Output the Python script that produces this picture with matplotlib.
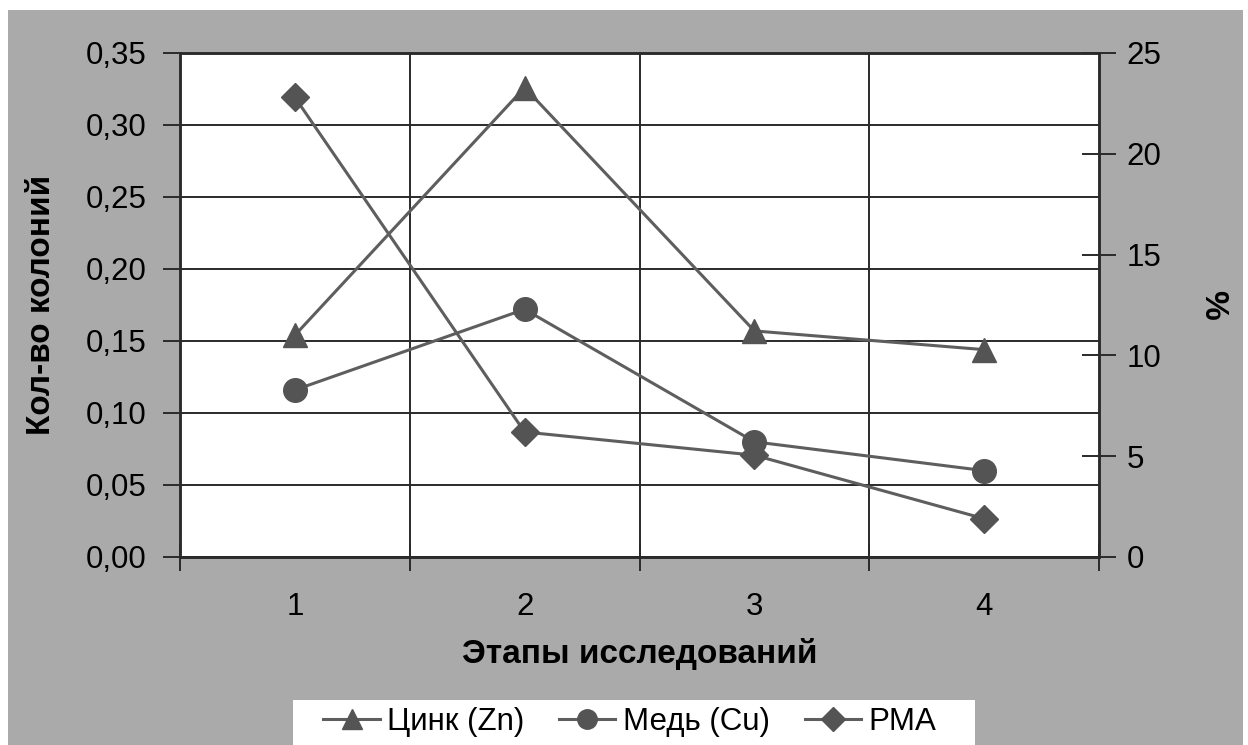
import matplotlib

matplotlib.use("Agg")
import matplotlib.pyplot as plt
from matplotlib.patches import Rectangle
from matplotlib.lines import Line2D

plt.rcParams["font.family"] = ["Liberation Sans", "DejaVu Sans"]

stages = [1, 2, 3, 4]
stage_labels = ["1", "2", "3", "4"]
zinc = [0.154, 0.326, 0.157, 0.144]
copper = [0.116, 0.172, 0.080, 0.060]
pma = [22.8, 6.2, 5.05, 1.9]

left_ticks = [0.0, 0.05, 0.10, 0.15, 0.20, 0.25, 0.30, 0.35]
right_ticks = [0, 5, 10, 15, 20, 25]

BG = "#aaaaaa"
LINE = "#5e5e5e"
MARK = "#545454"
GRID = "#2a2a2a"
FS = 22.5
FSB = 24

W, H = 1248, 745
fig = plt.figure(figsize=(W / 100, H / 100), dpi=100)
fig.patch.set_facecolor("white")
fig.patches.append(Rectangle((8 / W, 0), (1243 - 8) / W, (735) / H,
                             transform=fig.transFigure, facecolor=BG,
                             edgecolor="none", zorder=-2))
fig.patches.append(Rectangle((293 / W, 0), (975 - 293) / W, 45 / H,
                             transform=fig.transFigure, facecolor="white",
                             edgecolor="none", zorder=-1))

ax = fig.add_axes([180 / W, 1 - 557 / H, (1099 - 180) / W, (557 - 53) / H])
ax.set_facecolor("white")
ax2 = ax.twinx()

ax.plot(stages, zinc, color=LINE, lw=2.2, marker="^", ms=17, mfc=MARK, mec=MARK, zorder=3)
ax.plot(stages, copper, color=LINE, lw=2.2, marker="o", ms=17, mfc=MARK, mec=MARK, zorder=3)
ax2.plot(stages, pma, color=LINE, lw=2.2, marker="D", ms=14, mfc=MARK, mec=MARK, zorder=3)

ax.set_xlim(0.5, 4.5)
ax.set_ylim(0, 0.35)
ax2.set_ylim(0, 25)

# grid
for v in left_ticks:
    ax.axhline(v, color=GRID, lw=1.4, zorder=1)
for b in [1.5, 2.5, 3.5]:
    ax.axvline(b, color=GRID, lw=1.4, zorder=1)

ax.set_yticks(left_ticks)
ax.set_yticklabels([f"{v:.2f}".replace(".", ",") for v in left_ticks], fontsize=FS)
ax.tick_params(axis="y", direction="out", length=12, width=1.4, color=GRID, pad=12)

ax.set_xticks([0.5, 1.5, 2.5, 3.5, 4.5])
ax.set_xticklabels([])
ax.tick_params(axis="x", which="major", direction="inout", length=20, width=1.4, color=GRID)
ax.set_xticks(stages, minor=True)
ax.set_xticklabels(stage_labels, minor=True, fontsize=FS)
ax.tick_params(axis="x", which="minor", length=0, pad=25)

ax2.set_yticks(right_ticks)
ax2.set_yticklabels([str(v) for v in right_ticks], fontsize=FS)
ax2.tick_params(axis="y", direction="inout", length=24, width=1.4, color=GRID, pad=8)

for a in (ax, ax2):
    for s in a.spines.values():
        s.set_color(GRID)
        s.set_linewidth(1.8)

ax.set_xlabel("Этапы исследований", fontsize=FSB, fontweight="bold", labelpad=12)
ax.set_ylabel("Кол-во колоний", fontsize=FSB, fontweight="bold", labelpad=21)
ax2.set_ylabel("%", fontsize=FSB, fontweight="bold", rotation=270, labelpad=48)

handles = [
    Line2D([], [], color=LINE, lw=2.2, marker="^", ms=14, mfc=MARK, mec=MARK),
    Line2D([], [], color=LINE, lw=2.2, marker="o", ms=14, mfc=MARK, mec=MARK),
    Line2D([], [], color=LINE, lw=2.2, marker="D", ms=12, mfc=MARK, mec=MARK),
]
fig.legend(handles, ["Цинк (Zn)", "Медь (Cu)", "PMA"], loc="center",
           bbox_to_anchor=(630 / W, 1 - 722 / H), ncol=3, frameon=False,
           fontsize=FS, handlelength=1.8, handletextpad=0.25, columnspacing=1.1)

fig.savefig("out.png", dpi=100, facecolor=fig.get_facecolor())
